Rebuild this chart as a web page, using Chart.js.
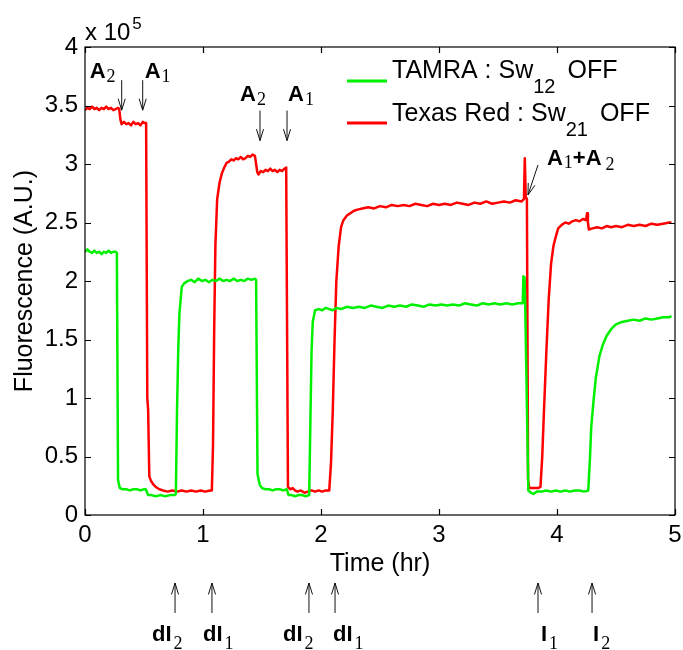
<!DOCTYPE html>
<html>
<head>
<meta charset="utf-8">
<title>Fluorescence traces</title>
<script src="https://cdn.jsdelivr.net/npm/chart.js@4.4.0/dist/chart.umd.min.js"></script>
<style>
  html, body { margin: 0; padding: 0; background: #fff; }
  #wrap { width: 683px; height: 650px; position: relative; }
</style>
</head>
<body>
<div id="wrap"><canvas id="trace"></canvas></div>
<script>
// [time (hr), fluorescence (x1e5)]
const texasRed = [
  [0.00, 3.46], [0.02, 3.48], [0.04, 3.47], [0.06, 3.49], [0.08, 3.47], [0.10, 3.48], [0.12, 3.46], [0.14, 3.48],
  [0.16, 3.47], [0.18, 3.49], [0.20, 3.47], [0.22, 3.48], [0.24, 3.46], [0.26, 3.47], [0.28, 3.48], [0.29, 3.47],
  [0.30, 3.38], [0.31, 3.34], [0.33, 3.36], [0.35, 3.34], [0.37, 3.35], [0.39, 3.33], [0.41, 3.36], [0.43, 3.34],
  [0.45, 3.35], [0.47, 3.33], [0.49, 3.36], [0.505, 3.35], [0.518, 3.35],
  [0.528, 1.00], [0.535, 0.90], [0.545, 0.33], [0.56, 0.29], [0.58, 0.26], [0.60, 0.24], [0.63, 0.22], [0.66, 0.21],
  [0.70, 0.20], [0.74, 0.21], [0.78, 0.20], [0.82, 0.21], [0.86, 0.20], [0.90, 0.21], [0.94, 0.20], [0.98, 0.21],
  [1.02, 0.20], [1.06, 0.21], [1.075, 0.21],
  [1.085, 0.60], [1.095, 1.60], [1.105, 2.30], [1.12, 2.70], [1.14, 2.84], [1.16, 2.92], [1.18, 2.97], [1.20, 3.01],
  [1.22, 3.02], [1.24, 3.04], [1.26, 3.03], [1.28, 3.05], [1.30, 3.04], [1.32, 3.06], [1.34, 3.04], [1.36, 3.05],
  [1.38, 3.07], [1.40, 3.06], [1.42, 3.08], [1.44, 3.07],
  [1.46, 2.93], [1.47, 2.91], [1.49, 2.94], [1.51, 2.93], [1.53, 2.95], [1.55, 2.94], [1.57, 2.96], [1.59, 2.94],
  [1.61, 2.95], [1.63, 2.93], [1.65, 2.95], [1.67, 2.94], [1.69, 2.96], [1.705, 2.97],
  [1.72, 0.24], [1.74, 0.22], [1.76, 0.23], [1.78, 0.21], [1.80, 0.20], [1.83, 0.21], [1.86, 0.19],
  [1.89, 0.20], [1.92, 0.21], [1.95, 0.20], [1.98, 0.21], [2.01, 0.20], [2.04, 0.21], [2.07, 0.21],
  [2.085, 0.45], [2.10, 0.90], [2.115, 1.50], [2.13, 2.00], [2.15, 2.30], [2.17, 2.46], [2.19, 2.52], [2.22, 2.56],
  [2.25, 2.58], [2.28, 2.60], [2.31, 2.61], [2.35, 2.62], [2.40, 2.63], [2.45, 2.62], [2.50, 2.64], [2.55, 2.63],
  [2.60, 2.65], [2.65, 2.64], [2.70, 2.65], [2.75, 2.64], [2.80, 2.66], [2.85, 2.65], [2.90, 2.64], [2.95, 2.66],
  [3.00, 2.65], [3.05, 2.66], [3.10, 2.65], [3.15, 2.67], [3.20, 2.66], [3.25, 2.65], [3.30, 2.67], [3.35, 2.66],
  [3.40, 2.68], [3.45, 2.66], [3.50, 2.67], [3.55, 2.68], [3.60, 2.67], [3.65, 2.69], [3.70, 2.68], [3.72, 2.70],
  [3.727, 3.05], [3.735, 2.72], [3.745, 2.70], [3.755, 0.30], [3.765, 0.23], [3.80, 0.23], [3.84, 0.23], [3.86, 0.24],
  [3.875, 0.50], [3.89, 0.90], [3.91, 1.40], [3.93, 1.85], [3.95, 2.15], [3.97, 2.30], [3.99, 2.38], [4.01, 2.45],
  [4.04, 2.48], [4.07, 2.50], [4.10, 2.49], [4.13, 2.51], [4.16, 2.52], [4.19, 2.51], [4.22, 2.53], [4.245, 2.52],
  [4.255, 2.58], [4.262, 2.50], [4.27, 2.44], [4.30, 2.45], [4.34, 2.46], [4.38, 2.45], [4.42, 2.47], [4.46, 2.46],
  [4.50, 2.47], [4.55, 2.46], [4.60, 2.48], [4.65, 2.47], [4.70, 2.48], [4.75, 2.47], [4.80, 2.49], [4.85, 2.48],
  [4.90, 2.49], [4.95, 2.50], [4.97, 2.50]
];

const tamra = [
  [0.00, 2.25], [0.02, 2.27], [0.04, 2.25], [0.06, 2.24], [0.08, 2.26], [0.10, 2.24], [0.12, 2.25], [0.14, 2.23],
  [0.16, 2.25], [0.18, 2.24], [0.20, 2.26], [0.22, 2.24], [0.24, 2.25], [0.26, 2.25], [0.27, 2.24],
  [0.28, 0.30], [0.295, 0.23], [0.32, 0.22], [0.35, 0.22], [0.38, 0.21], [0.41, 0.22], [0.44, 0.22],
  [0.47, 0.21], [0.50, 0.22], [0.515, 0.22], [0.535, 0.17], [0.56, 0.17], [0.60, 0.16], [0.64, 0.17], [0.68, 0.16],
  [0.72, 0.17], [0.76, 0.17], [0.77, 0.18],
  [0.78, 0.90], [0.79, 1.40], [0.80, 1.72], [0.82, 1.95], [0.84, 1.98], [0.87, 2.00], [0.90, 2.01], [0.93, 1.99],
  [0.96, 2.02], [0.99, 2.00], [1.02, 2.01], [1.05, 1.99], [1.08, 2.01], [1.11, 2.00], [1.14, 2.02], [1.17, 2.00],
  [1.20, 2.01], [1.23, 2.00], [1.26, 2.02], [1.29, 2.00], [1.32, 2.01], [1.35, 2.00], [1.38, 2.02], [1.41, 2.01],
  [1.44, 2.02], [1.45, 2.01],
  [1.462, 0.35], [1.48, 0.26], [1.50, 0.23], [1.53, 0.22], [1.56, 0.22], [1.59, 0.21], [1.62, 0.22],
  [1.65, 0.22], [1.68, 0.21], [1.71, 0.22], [1.725, 0.17], [1.75, 0.17], [1.78, 0.16], [1.81, 0.17], [1.84, 0.17],
  [1.87, 0.16], [1.90, 0.17],
  [1.91, 0.80], [1.92, 1.40], [1.93, 1.65], [1.95, 1.75], [1.98, 1.76], [2.01, 1.75], [2.04, 1.77], [2.07, 1.76],
  [2.10, 1.75], [2.13, 1.77], [2.17, 1.76], [2.22, 1.78], [2.27, 1.77], [2.32, 1.78], [2.37, 1.77], [2.42, 1.79],
  [2.47, 1.78], [2.52, 1.77], [2.57, 1.79], [2.62, 1.78], [2.67, 1.79], [2.72, 1.78], [2.77, 1.80], [2.82, 1.79],
  [2.87, 1.78], [2.92, 1.80], [2.97, 1.79], [3.02, 1.80], [3.07, 1.79], [3.12, 1.80], [3.17, 1.79], [3.22, 1.81],
  [3.27, 1.80], [3.32, 1.79], [3.37, 1.81], [3.42, 1.80], [3.47, 1.81], [3.52, 1.80], [3.57, 1.81], [3.62, 1.80],
  [3.67, 1.81], [3.71, 1.81],
  [3.715, 2.04], [3.725, 2.03], [3.73, 1.83], [3.757, 0.21], [3.78, 0.19], [3.80, 0.18], [3.83, 0.20],
  [3.87, 0.20], [3.91, 0.21], [3.95, 0.20], [3.99, 0.21], [4.03, 0.20], [4.07, 0.21], [4.11, 0.20], [4.15, 0.21],
  [4.19, 0.21], [4.23, 0.20], [4.265, 0.21],
  [4.28, 0.50], [4.29, 0.75], [4.31, 0.98], [4.33, 1.18], [4.36, 1.36], [4.39, 1.46], [4.42, 1.53], [4.46, 1.59],
  [4.50, 1.63], [4.55, 1.65], [4.60, 1.66], [4.65, 1.67], [4.70, 1.66], [4.75, 1.68], [4.80, 1.67], [4.85, 1.68],
  [4.90, 1.69], [4.95, 1.69], [4.97, 1.70]
];

const timeTicks = [0, 1, 2, 3, 4, 5];
const levelTicks = [0, 0.5, 1, 1.5, 2, 2.5, 3, 3.5, 4];

// strand additions, arrows pointing down onto the traces
const additions = [
  { t: 0.311, level: 3.46, name: "A", sub: "2", dx: -32, dy: -32 },
  { t: 0.489, level: 3.46, name: "A", sub: "1", dx: 2, dy: -32 },
  { t: 1.483, level: 3.20, name: "A", sub: "2", dx: -20, dy: -40 },
  { t: 1.712, level: 3.20, name: "A", sub: "1", dx: 1, dy: -40 }
];

// inhibitor additions, arrows under the time axis
const inhibitors = [
  { t: 0.763, name: "dI", sub: "2", dx: -23 },
  { t: 1.076, name: "dI", sub: "1", dx: -9 },
  { t: 1.898, name: "dI", sub: "2", dx: -26 },
  { t: 2.119, name: "dI", sub: "1", dx: -2 },
  { t: 3.839, name: "I", sub: "1", dx: 3 },
  { t: 4.297, name: "I", sub: "2", dx: 1 }
];

const SANS = '"Liberation Sans", Arial, Helvetica, sans-serif';
const SERIF = '"Liberation Serif", "Times New Roman", serif';
const GREEN = "rgb(0, 240, 0)";
const RED = "rgb(255, 0, 0)";

function toPoints(rows) {
  return rows.map(([x, y]) => ({ x, y }));
}

function drawRuns(ctx, x, y, runs) {
  let cx = x;
  for (const run of runs) {
    ctx.font = run.font;
    ctx.fillText(run.text, cx, y + (run.dy || 0));
    cx += ctx.measureText(run.text).width + (run.gap || 0);
  }
  return cx;
}

function drawArrow(ctx, x1, y1, x2, y2) {
  const ang = Math.atan2(y2 - y1, x2 - x1);
  const head = 12;
  const spread = 0.3;
  ctx.beginPath();
  ctx.moveTo(x1, y1);
  ctx.lineTo(x2, y2);
  ctx.moveTo(x2 - head * Math.cos(ang - spread), y2 - head * Math.sin(ang - spread));
  ctx.lineTo(x2, y2);
  ctx.lineTo(x2 - head * Math.cos(ang + spread), y2 - head * Math.sin(ang + spread));
  ctx.stroke();
}

const figureMarks = {
  id: "figureMarks",
  afterDraw(chart) {
    const { ctx, chartArea: area, scales } = chart;
    const xs = scales.x;
    const ys = scales.y;
    ctx.save();

    // axes box with inward ticks on all four sides
    ctx.strokeStyle = "#000";
    ctx.lineWidth = 1.2;
    ctx.strokeRect(area.left, area.top, area.right - area.left, area.bottom - area.top);
    ctx.beginPath();
    for (const t of timeTicks) {
      const px = Math.round(xs.getPixelForValue(t)) + 0.5;
      ctx.moveTo(px, area.bottom); ctx.lineTo(px, area.bottom - 6);
      ctx.moveTo(px, area.top); ctx.lineTo(px, area.top + 6);
    }
    for (const v of levelTicks) {
      const py = Math.round(ys.getPixelForValue(v)) + 0.5;
      ctx.moveTo(area.left, py); ctx.lineTo(area.left + 6, py);
      ctx.moveTo(area.right, py); ctx.lineTo(area.right - 6, py);
    }
    ctx.stroke();

    ctx.fillStyle = "#000";
    ctx.textBaseline = "alphabetic";
    ctx.textAlign = "left";

    // exponent above the level axis
    drawRuns(ctx, area.left, 40, [
      { text: "x 10", font: "24px " + SANS, gap: 2 },
      { text: "5", font: "17px " + SANS, dy: -11 }
    ]);

    // axis titles
    ctx.font = "25px " + SANS;
    ctx.textAlign = "center";
    ctx.fillText("Time (hr)", (area.left + area.right) / 2, 571);
    ctx.save();
    ctx.translate(32, (area.top + area.bottom) / 2);
    ctx.rotate(-Math.PI / 2);
    ctx.fillText("Fluorescence (A.U.)", 0, 0);
    ctx.restore();
    ctx.textAlign = "left";

    // legend
    const legendRows = [
      { color: GREEN, y: 81, base: 78, main: "TAMRA : Sw", sub: "12" },
      { color: RED, y: 123, base: 121, main: "Texas Red : Sw", sub: "21" }
    ];
    for (const row of legendRows) {
      ctx.strokeStyle = row.color;
      ctx.lineWidth = 3;
      ctx.beginPath();
      ctx.moveTo(347, row.y);
      ctx.lineTo(387, row.y);
      ctx.stroke();
      drawRuns(ctx, 392, row.base, [
        { text: row.main, font: "25px " + SANS },
        { text: row.sub, font: "20px " + SANS, dy: 15, gap: 12 },
        { text: "OFF", font: "25px " + SANS }
      ]);
    }

    ctx.strokeStyle = "#111";
    ctx.lineWidth = 1;

    // strand arrows and labels
    for (const mark of additions) {
      const px = xs.getPixelForValue(mark.t);
      const py = ys.getPixelForValue(mark.level);
      drawArrow(ctx, px, py - 30, px, py);
      drawRuns(ctx, px + mark.dx, py + mark.dy, [
        { text: mark.name, font: "bold 22px " + SANS, gap: 1 },
        { text: mark.sub, font: "18px " + SERIF, dy: 4 }
      ]);
    }

    // combined addition at the spike
    const cx = xs.getPixelForValue(3.754);
    const cy = ys.getPixelForValue(2.735);
    drawArrow(ctx, cx + 10, cy - 30, cx, cy);
    drawRuns(ctx, cx + 19, cy - 30, [
      { text: "A", font: "bold 22px " + SANS, gap: 1 },
      { text: "1", font: "18px " + SERIF, dy: 3 },
      { text: "+A", font: "bold 22px " + SANS, gap: 4 },
      { text: "2", font: "18px " + SERIF, dy: 5 }
    ]);

    // inhibitor arrows below the axis
    for (const mark of inhibitors) {
      const px = xs.getPixelForValue(mark.t);
      drawArrow(ctx, px, 613, px, 583);
      drawRuns(ctx, px + mark.dx, 641, [
        { text: mark.name, font: "bold 22px " + SANS, gap: 2 },
        { text: mark.sub, font: "18px " + SERIF, dy: 8 }
      ]);
    }

    ctx.restore();
  }
};

new Chart(document.getElementById("trace"), {
  type: "line",
  data: {
    datasets: [
      {
        label: "TAMRA",
        data: toPoints(tamra),
        borderColor: GREEN,
        borderWidth: 2.5,
        borderJoinStyle: "round",
        pointRadius: 0,
        tension: 0
      },
      {
        label: "Texas Red",
        data: toPoints(texasRed),
        borderColor: RED,
        borderWidth: 2.5,
        borderJoinStyle: "round",
        pointRadius: 0,
        tension: 0
      }
    ]
  },
  options: {
    responsive: true,
    maintainAspectRatio: false,
    animation: false,
    events: [],
    layout: {
      autoPadding: false,
      padding: { left: 0, top: 47, right: 8, bottom: 0 }
    },
    plugins: {
      legend: { display: false },
      tooltip: { enabled: false }
    },
    scales: {
      x: {
        type: "linear",
        min: 0,
        max: 5,
        afterBuildTicks(scale) {
          scale.ticks = timeTicks.map((value) => ({ value }));
        },
        afterFit(scale) {
          scale.height = 135;
          // end labels may overhang the plot box
          scale.paddingLeft = 0;
          scale.paddingRight = 0;
        },
        grid: { display: false, drawTicks: false },
        border: { display: false },
        ticks: {
          color: "#000",
          padding: 6,
          maxRotation: 0,
          font: { family: SANS, size: 24 }
        }
      },
      y: {
        type: "linear",
        min: 0,
        max: 4,
        afterBuildTicks(scale) {
          scale.ticks = levelTicks.map((value) => ({ value }));
        },
        afterFit(scale) {
          scale.width = 85;
        },
        grid: { display: false, drawTicks: false },
        border: { display: false },
        ticks: {
          color: "#000",
          padding: 7,
          font: { family: SANS, size: 24 },
          callback(value) {
            return String(value);
          }
        }
      }
    }
  },
  plugins: [figureMarks]
});
</script>
</body>
</html>
